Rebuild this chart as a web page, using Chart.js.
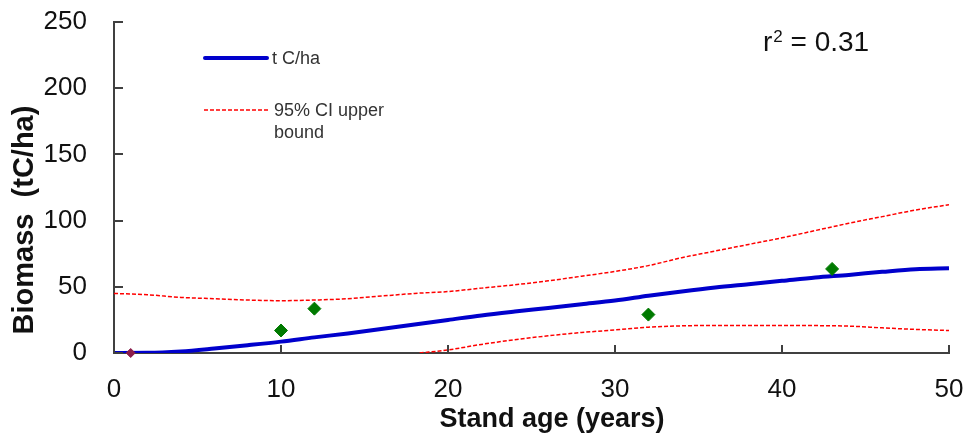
<!DOCTYPE html>
<html>
<head>
<meta charset="utf-8">
<script src="https://cdn.jsdelivr.net/npm/chart.js@4/dist/chart.umd.min.js"></script>
<style>
  html, body { margin: 0; padding: 0; background: #ffffff; }
  #wrap { width: 968px; height: 434px; }
</style>
</head>
<body>
<div id="wrap"><canvas id="c" width="968" height="434"></canvas></div>
<script>
// Stand age (years) and biomass (tC/ha)
const fitAges   = [0, 2, 4, 6, 8, 10, 12, 14, 16, 18, 20, 22, 24, 26, 28, 30, 32, 34, 36, 38, 40, 42, 44, 46, 48, 50];
const fitValues = [0, 0.1, 1.2, 3.4, 5.9, 8.6, 11.8, 14.8, 18.2, 21.6, 25, 28.4, 31.3, 34, 36.8, 39.6, 43.2, 46.5, 49.5, 52, 54.5, 57, 59, 61.3, 63.3, 64];

const upperAges   = [0, 2, 4, 6, 8, 10, 12, 14, 16, 18, 20, 22, 24, 26, 28, 30, 32, 34, 36, 38, 40, 42, 44, 46, 48, 50];
const upperValues = [45, 44, 42, 41, 40, 39.5, 40, 41, 43, 45, 46.4, 49, 51.5, 54.5, 58, 61.6, 66, 72, 77, 82, 87, 92.5, 98, 103, 108, 112];

const lowerAges   = [18.3, 20, 22, 24, 26, 28, 30, 32, 34, 36, 38, 40, 42, 44, 46, 48, 50];
const lowerValues = [0, 2.3, 6.5, 10, 13, 15.5, 17.4, 19.5, 20.5, 20.8, 20.8, 20.8, 20.7, 20.3, 19, 17.8, 17];

const plotAges   = [10, 12, 32, 43];
const plotValues = [17, 33.5, 29, 63.5];

const recentAges   = [1];
const recentValues = [0];

const xTicks = [0, 10, 20, 30, 40, 50];
const yTicks = [0, 50, 100, 150, 200, 250];

const rSquared = '0.31';

const pts = (xs, ys) => xs.map((x, i) => ({ x: x, y: ys[i] }));

const FONT = '"Liberation Sans", Arial, Helvetica, sans-serif';
const AXIS_COLOR = '#404040';

// Inward tick marks, axis titles, legend and r² annotation
const decorations = {
  id: 'decorations',
  afterDraw(chart) {
    const ctx = chart.ctx;
    const xs = chart.scales.x, ys = chart.scales.y;
    const area = chart.chartArea;
    ctx.save();

    ctx.strokeStyle = AXIS_COLOR;
    ctx.lineWidth = 2;
    ctx.beginPath();
    xTicks.forEach(v => {
      const px = Math.round(xs.getPixelForValue(v));
      ctx.moveTo(px, area.bottom);
      ctx.lineTo(px, area.bottom - 8);
    });
    yTicks.forEach(v => {
      const py = Math.round(ys.getPixelForValue(v));
      ctx.moveTo(area.left, py);
      ctx.lineTo(area.left + 9, py);
    });
    ctx.stroke();

    // axis titles
    ctx.fillStyle = '#111111';
    ctx.font = 'bold 27px ' + FONT;
    ctx.textAlign = 'center';
    ctx.textBaseline = 'alphabetic';
    ctx.fillText('Stand age (years)', 552, 427);

    ctx.save();
    ctx.translate(33, 220);
    ctx.rotate(-Math.PI / 2);
    ctx.font = 'bold 29px ' + FONT;
    ctx.fillText('Biomass  (tC/ha)', 0, 0);
    ctx.restore();

    // legend
    const fit = chart.data.datasets[1];
    const ci = chart.data.datasets[2];
    ctx.lineCap = 'round';
    ctx.strokeStyle = fit.borderColor;
    ctx.lineWidth = fit.borderWidth;
    ctx.beginPath();
    ctx.moveTo(205, 58);
    ctx.lineTo(267, 58);
    ctx.stroke();

    ctx.lineCap = 'butt';
    ctx.strokeStyle = ci.borderColor;
    ctx.lineWidth = ci.borderWidth;
    ctx.setLineDash(ci.borderDash);
    ctx.beginPath();
    ctx.moveTo(204, 110);
    ctx.lineTo(268, 110);
    ctx.stroke();
    ctx.setLineDash([]);

    ctx.fillStyle = '#333333';
    ctx.font = '18px ' + FONT;
    ctx.textAlign = 'left';
    ctx.textBaseline = 'middle';
    ctx.fillText(fit.label, 272, 59);
    ctx.fillText('95% CI upper', 274, 111);
    ctx.fillText('bound', 274, 133);

    // r² annotation
    ctx.fillStyle = '#111111';
    ctx.textBaseline = 'alphabetic';
    ctx.font = '28px ' + FONT;
    ctx.fillText('r', 763, 51);
    const rw = ctx.measureText('r').width;
    ctx.font = '17px ' + FONT;
    ctx.fillText('2', 763 + rw + 1, 42);
    const sw = ctx.measureText('2').width;
    ctx.font = '28px ' + FONT;
    ctx.fillText(' = ' + rSquared, 763 + rw + sw + 1, 51);

    ctx.restore();
  }
};

new Chart(document.getElementById('c'), {
  type: 'scatter',
  data: {
    datasets: [
      {
        label: 'Plots',
        data: pts(plotAges, plotValues),
        showLine: false,
        pointStyle: 'rectRot',
        pointRadius: 6.5,
        borderWidth: 1,
        backgroundColor: '#007A00',
        borderColor: '#007A00',
        order: 0
      },
      {
        label: 't C/ha',
        data: pts(fitAges, fitValues),
        showLine: true,
        borderColor: '#0000CC',
        borderWidth: 4,
        pointRadius: 0,
        cubicInterpolationMode: 'monotone',
        fill: false,
        order: 2
      },
      {
        label: '95% CI upper bound',
        data: pts(upperAges, upperValues),
        showLine: true,
        borderColor: '#FF0000',
        borderWidth: 1.5,
        borderDash: [4, 2],
        pointRadius: 0,
        cubicInterpolationMode: 'monotone',
        fill: false,
        order: 3
      },
      {
        label: '95% CI lower bound',
        data: pts(lowerAges, lowerValues),
        showLine: true,
        borderColor: '#FF0000',
        borderWidth: 1.5,
        borderDash: [4, 2],
        pointRadius: 0,
        cubicInterpolationMode: 'monotone',
        fill: false,
        order: 3
      },
      {
        label: 'Recent',
        data: pts(recentAges, recentValues),
        showLine: false,
        pointStyle: 'rectRot',
        pointRadius: 4.5,
        borderWidth: 1,
        backgroundColor: '#8B1C4A',
        borderColor: '#8B1C4A',
        clip: false,
        order: 1
      }
    ]
  },
  options: {
    responsive: false,
    animation: false,
    devicePixelRatio: 1,
    layout: { padding: { top: 22, right: 19, bottom: 0, left: 0 } },
    plugins: {
      legend: { display: false },
      tooltip: { enabled: false }
    },
    scales: {
      x: {
        type: 'linear',
        min: 0,
        max: 50,
        afterBuildTicks: s => { s.ticks = xTicks.map(v => ({ value: v })); },
        afterFit: s => { s.height = 81; s.paddingLeft = 0; s.paddingRight = 0; },
        grid: { display: false, drawTicks: false },
        border: { display: true, color: AXIS_COLOR, width: 2 },
        ticks: {
          padding: 21,
          color: '#111111',
          font: { family: FONT, size: 26 },
          maxRotation: 0
        }
      },
      y: {
        type: 'linear',
        min: 0,
        max: 250,
        afterBuildTicks: s => { s.ticks = yTicks.map(v => ({ value: v })); },
        afterFit: s => { s.width = 114; s.paddingTop = 0; s.paddingBottom = 0; },
        grid: { display: false, drawTicks: false },
        border: { display: true, color: AXIS_COLOR, width: 2 },
        ticks: {
          padding: 27,
          color: '#111111',
          font: { family: FONT, size: 26 }
        }
      }
    }
  },
  plugins: [decorations]
});
</script>
</body>
</html>
